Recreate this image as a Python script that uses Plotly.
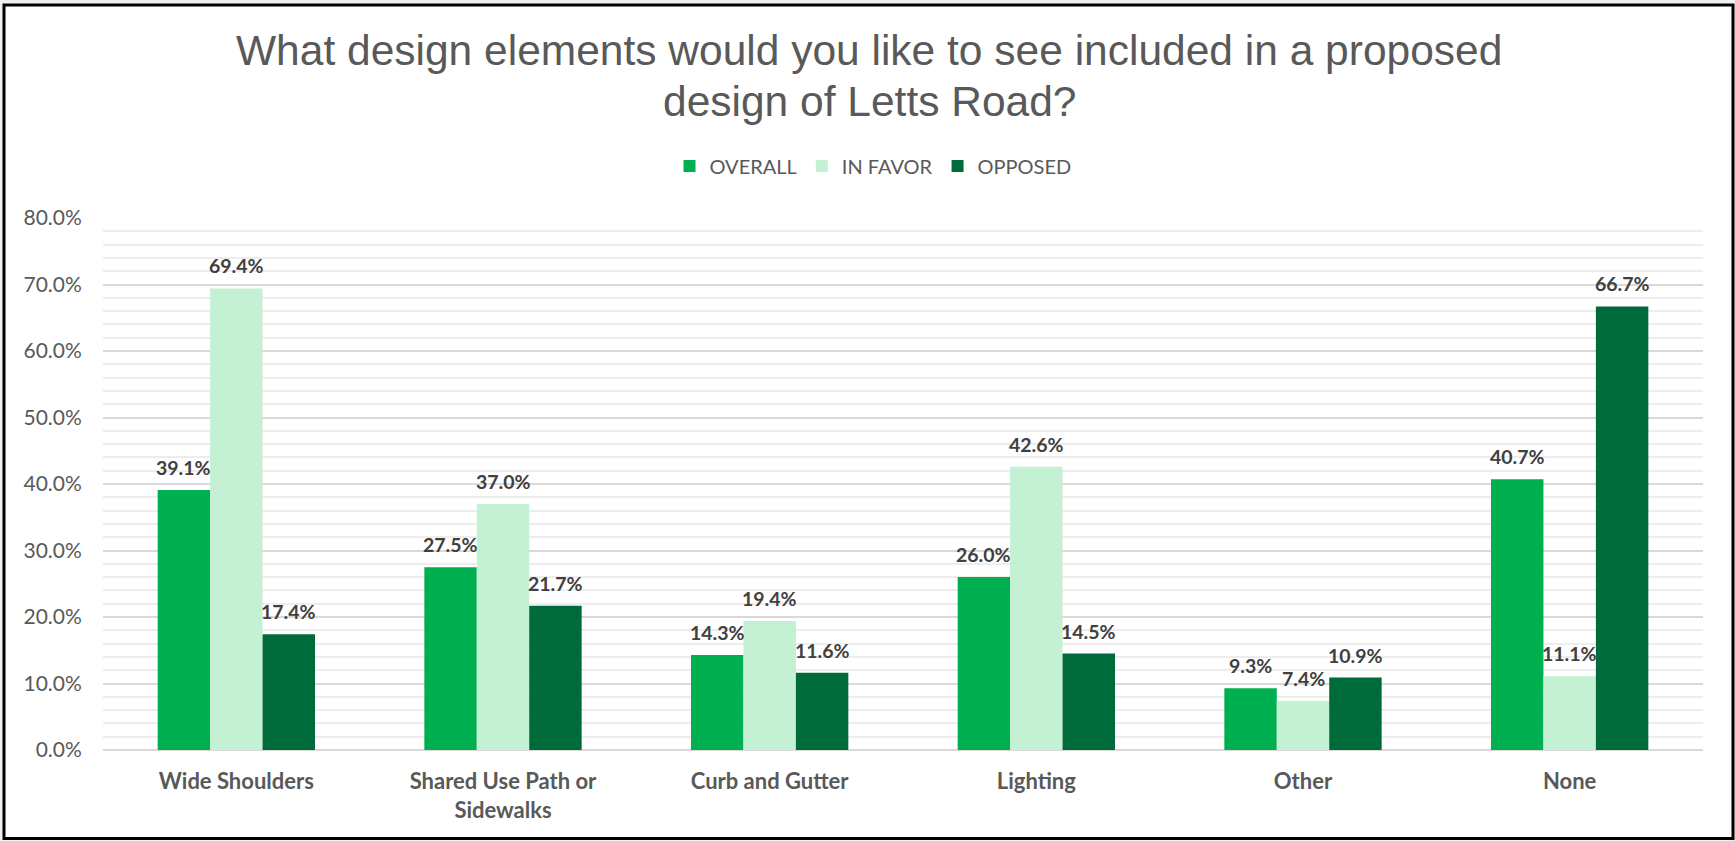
import numpy as np
import plotly.graph_objects as go

# Survey results: share of respondents selecting each design element
categories = ["Wide Shoulders", "Shared Use Path or<br>Sidewalks", "Curb and Gutter",
              "Lighting", "Other", "None"]
overall = [0.391, 0.275, 0.143, 0.260, 0.093, 0.407]
in_favor = [0.694, 0.370, 0.194, 0.426, 0.074, 0.111]
opposed = [0.174, 0.217, 0.116, 0.145, 0.109, 0.667]

series_names = ["OVERALL", "IN FAVOR", "OPPOSED"]
series_colors = ["#00B050", "#C4F0D4", "#006B3A"]
series_values = [overall, in_favor, opposed]

y_ticks = [0.0, 0.1, 0.2, 0.3, 0.4, 0.5, 0.6, 0.7, 0.8]

W, H = 1735, 841
M_L, M_R, M_T, M_B = 103, 32, 218, 91
PW, PH = W - M_L - M_R, H - M_T - M_B
BARGAP = 0.41

LABEL_FONT = "Lato, 'Open Sans', sans-serif"
TEXT_GREY = "#595959"

x_pos = np.arange(len(categories))
bar_w = (1 - BARGAP) / len(series_names)

fig = go.Figure()
for k, (name, color, vals) in enumerate(zip(series_names, series_colors, series_values)):
    fig.add_trace(go.Bar(
        x=x_pos, y=vals, name=name, marker=dict(color=color, line=dict(width=0)),
        hoverinfo="skip",
    ))

# value labels above each bar
annotations = []
for k, vals in enumerate(series_values):
    offset = (k - (len(series_names) - 1) / 2) * bar_w
    for i, v in enumerate(vals):
        annotations.append(dict(
            x=x_pos[i] + offset, y=v, xref="x", yref="y",
            text=f"<b>{v * 100:.1f}%</b>", showarrow=False,
            yanchor="bottom", yshift=9,
            font=dict(family=LABEL_FONT, size=19.5, color="#404040"),
        ))

def px_to_paper_x(px):
    return (px - M_L) / PW

def px_to_paper_y(py):
    return (H - M_B - py) / PH

# two-line chart title
title_lines = ["What design elements would you like to see included in a proposed",
               "design of Letts Road?"]
for line, cy in zip(title_lines, [50.5, 101]):
    annotations.append(dict(
        x=px_to_paper_x(869), y=px_to_paper_y(cy), xref="paper", yref="paper",
        text=line, showarrow=False, xanchor="center", yanchor="middle",
        font=dict(family="'Liberation Sans', Arial, sans-serif", size=42.5, color=TEXT_GREY),
    ))

shapes = [dict(
    type="rect", xref="paper", yref="paper", layer="below",
    x0=px_to_paper_x(4), x1=px_to_paper_x(1733),
    y0=px_to_paper_y(838.5), y1=px_to_paper_y(5),
    fillcolor="white", line=dict(color="black", width=3),
)]

fig.update_layout(
    width=W, height=H,
    margin=dict(l=M_L, r=M_R, t=M_T, b=M_B, pad=0),
    paper_bgcolor="#F0F0F0",
    plot_bgcolor="rgba(0,0,0,0)",
    barmode="group", bargap=BARGAP, bargroupgap=0,
    showlegend=True,
    legend=dict(
        orientation="h", x=px_to_paper_x(873), xanchor="center",
        y=px_to_paper_y(166), yanchor="middle",
        font=dict(family=LABEL_FONT, size=20, color=TEXT_GREY),
        bgcolor="rgba(0,0,0,0)", itemclick=False, itemdoubleclick=False,
    ),
    annotations=annotations,
    shapes=shapes,
    xaxis=dict(
        tickmode="array", tickvals=x_pos, ticktext=[f"<b>{c}</b>" for c in categories],
        range=[-0.5, len(categories) - 0.5],
        showgrid=False, zeroline=False, showline=False,
        ticks="outside", ticklen=12, tickcolor="rgba(0,0,0,0)",
        tickfont=dict(family=LABEL_FONT, size=22, color=TEXT_GREY),
        fixedrange=True,
    ),
    yaxis=dict(
        range=[0, 0.8], tickmode="array", tickvals=y_ticks,
        tickformat=".1%",
        showgrid=True, gridcolor="#D9D9D9", gridwidth=1.5,
        zeroline=True, zerolinecolor="#D9D9D9", zerolinewidth=1.5,
        showline=False,
        ticks="outside", ticklen=16, tickcolor="rgba(0,0,0,0)",
        tickfont=dict(family=LABEL_FONT, size=21, color=TEXT_GREY),
        minor=dict(dtick=0.02, showgrid=True, gridcolor="#EDEDED", gridwidth=1.5),
        fixedrange=True,
    ),
)

fig.write_html("out.html", config={"displayModeBar": False})
